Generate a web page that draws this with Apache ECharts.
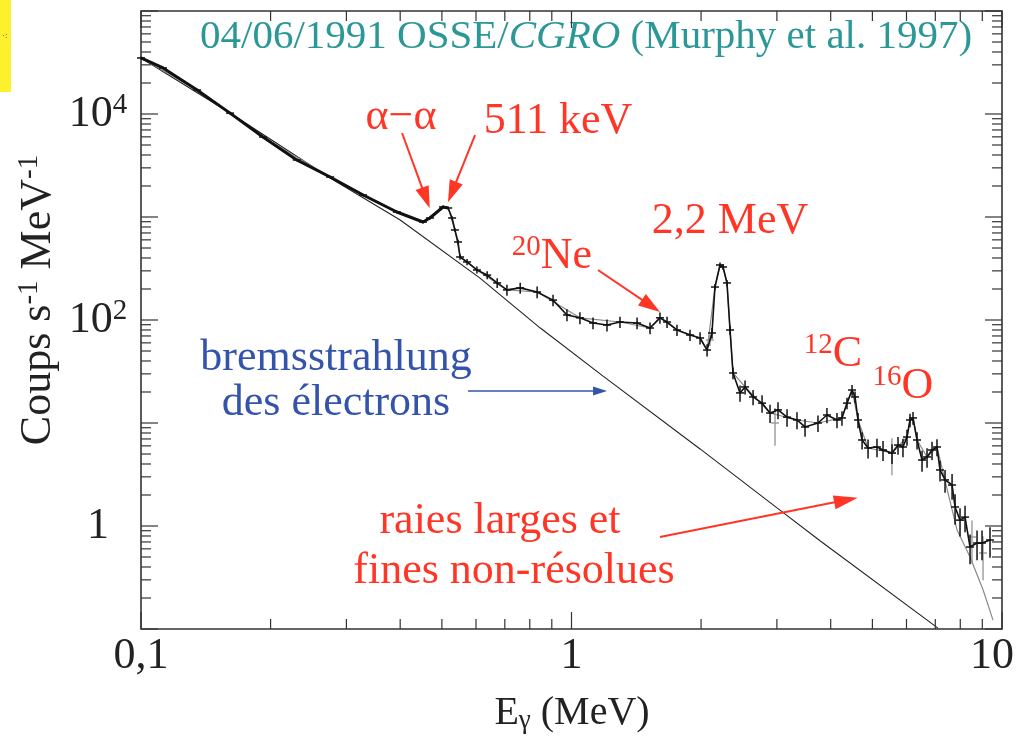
<!DOCTYPE html>
<html>
<head>
<meta charset="utf-8">
<title>OSSE/CGRO spectrum 04/06/1991</title>
<script src="https://cdn.jsdelivr.net/npm/echarts@6/dist/echarts.min.js"></script>
<style>
  html, body { margin: 0; padding: 0; background: #ffffff; }
  #chart { width: 1021px; height: 745px; }
</style>
</head>
<body>
<div id="chart"></div>
<script>
// Solar flare gamma-ray spectrum, 4 June 1991, OSSE on CGRO.
// Energies in MeV, rates in counts s^-1 MeV^-1.

// Measured spectrum (black crosses)
const energy = [0.100, 0.1125, 0.135, 0.161, 0.192, 0.230, 0.275, 0.328, 0.393, 0.452,
  0.469, 0.503, 0.517, 0.528, 0.536, 0.545, 0.551, 0.572, 0.603, 0.637,
  0.672, 0.708, 0.760, 0.832, 0.906, 0.976, 1.046, 1.122, 1.209, 1.296,
  1.420, 1.522, 1.605, 1.667, 1.758, 1.885, 1.989, 2.065, 2.120, 2.154,
  2.213, 2.249, 2.297, 2.335, 2.372, 2.463, 2.530, 2.641, 2.771, 2.892,
  3.018, 3.167, 3.340, 3.487, 3.737, 3.921, 4.137, 4.249, 4.365, 4.484,
  4.556, 4.630, 4.731, 4.885, 5.124, 5.292, 5.553, 5.734, 5.888, 6.016,
  6.114, 6.213, 6.348, 6.520, 6.697, 6.878, 7.063, 7.178, 7.374, 7.656,
  7.780, 7.989, 8.206, 8.429, 8.750, 8.987, 9.379];
const counts = [35000, 28000, 17100, 10200, 5980, 3580, 2445, 1635, 1118, 894,
  978, 1251, 1223, 978, 748, 572, 409, 366, 306, 273,
  229, 196, 205, 187, 156, 112, 105, 93.5, 89.4, 95.6,
  93.5, 83.6, 105, 95.6, 80, 71.5, 66.9, 51.1, 74.8, 209,
  342, 327, 229, 80, 30.6, 19.6, 22.4, 17.9, 15.6, 12.5,
  13.4, 11.4, 10.7, 9.15, 10.0, 11.96, 10.7, 11.2, 15.6, 20.9,
  17.9, 10.7, 6.84, 5.72, 5.85, 5.47, 5.11, 6.11, 5.85, 7.31,
  10.7, 11.2, 6.84, 4.37, 4.68, 5.47, 5.85, 3.50, 2.80, 2.50,
  1.53, 1.14, 1.22, 0.625, 0.684, 0.684, 0.731];
const countErr = [1000, 800, 500, 300, 170, 100, 70, 50, 34, 28,
  30, 40, 40, 35, 30, 28, 25, 25, 24, 24,
  25, 24, 25, 24, 20, 15, 14, 12, 12, 12,
  12, 11, 13, 12, 10, 9, 9, 7, 9, 15,
  20, 20, 16, 8, 4, 3.5, 3.5, 3, 3, 2.5,
  2.5, 2.2, 2, 1.8, 1.8, 2, 1.8, 1.8, 2, 2.5,
  2.3, 1.8, 1.3, 1.2, 1.2, 1.2, 1.1, 1.2, 1.2, 1.3,
  1.6, 1.6, 1.3, 1.0, 1.0, 1.1, 1.1, 0.8, 0.7, 0.7,
  0.5, 0.35, 0.35, 0.2, 0.22, 0.22, 0.24];
// Below the 511 keV line the bins are so dense they merge into a heavy trace
const denseBins = 13;

// Second detector set (grey crosses)
const energy2 = [2.097, 2.97, 5.55, 8.516, 9.035];
const counts2 = [63.9, 10.0, 5.11, 0.782, 0.547];
const countErr2 = [8, 4, 2, 0.35, 0.25];

// Fitted total model (grey line)
const fitEnergy = [0.100, 0.135, 0.192, 0.275, 0.393, 0.452, 0.503, 0.517, 0.536, 0.551,
  0.603, 0.708, 0.832, 1.046, 1.296, 1.522, 1.605, 1.758, 1.989, 2.065,
  2.154, 2.213, 2.249, 2.297, 2.335, 2.372, 2.530, 2.892, 3.340, 3.737,
  4.249, 4.365, 4.484, 4.630, 4.885, 5.553, 6.016, 6.114, 6.213, 6.348,
  6.697, 7.063, 7.34, 7.86, 8.43, 9.04, 9.53];
const fitCounts = [35000, 17100, 5980, 2445, 1118, 894, 1251, 1223, 748, 409,
  306, 196, 187, 105, 95.6, 83.6, 105, 80, 66.9, 51.1,
  209, 342, 327, 229, 80, 30.6, 22.4, 12.5, 10.7, 10.0,
  11.2, 15.6, 20.9, 10.7, 5.72, 5.11, 7.31, 10.7, 11.2, 6.84,
  4.68, 5.85, 2.99, 0.915, 0.50, 0.239, 0.122];

// Electron bremsstrahlung continuum
const bremsEnergy = [0.100, 0.161, 0.275, 0.400, 0.613, 0.845, 1.184, 1.989, 3.002, 3.778, 7.10];
const bremsCounts = [34970, 10220, 2391, 935, 255, 84, 28.5, 5.6, 1.5, 0.72, 0.102];

// Tick labels per decade exponent
const xTickLabels = { '-1': '0,1', '0': '1', '1': '{pad|10}' };
const yTickLabels = { '0': '{n|1}', '2': '{n|10}{s|2}', '4': '{n|10}{s|4}' };

// Annotation arrows [start, end] in (MeV, rate)
const arrowAlpha = [[0.404, 6540], [0.459, 1528]];
const arrow511 = [[0.597, 6250], [0.528, 1750]];
const arrowNe = [[1.152, 306], [1.530, 137]];
const arrowBrems = [[0.575, 20.4], [1.165, 20.4]];
const arrowLines = [[1.605, 0.782], [4.341, 1.788]];

const FONT = "'Liberation Serif', 'Times New Roman', serif";
const RED = '#ff3526';
const BLUE = '#3454ab';
const TEAL = '#2b9797';
const INK = '#222222';
const FRAME = '#333333';

const chart = echarts.init(document.getElementById('chart'), null, { renderer: 'canvas' });

const pairs = (xs, ys) => xs.map((x, i) => [x, ys[i]]);
const triples = (xs, ys, es) => xs.map((x, i) => [x, ys[i], es[i]]);

// decade ticks (major) and 2..9 sub-ticks on both log axes
function tickItems() {
  const items = [];
  for (let k = -1; k <= 1; k++) {
    const base = Math.pow(10, k);
    items.push([base, 1, 0]);
    if (k < 1) for (let m = 2; m <= 9; m++) items.push([m * base, 1, 1]);
  }
  for (let k = -1; k <= 5; k++) {
    const base = Math.pow(10, k);
    items.push([1, base, 2]);
    if (k < 5) for (let m = 2; m <= 9; m++) items.push([1, m * base, 3]);
  }
  return items;
}

function renderTick(params, api) {
  const kind = api.value(2);
  const len = (kind === 0 || kind === 2) ? 17 : 10;
  const cs = params.coordSys;
  const style = { stroke: FRAME, lineWidth: 1.2 };
  if (kind < 2) {
    const px = api.coord([api.value(0), 1])[0];
    const yb = cs.y + cs.height, yt = cs.y;
    return { type: 'group', children: [
      { type: 'line', shape: { x1: px, y1: yb, x2: px, y2: yb - len }, style },
      { type: 'line', shape: { x1: px, y1: yt, x2: px, y2: yt + len }, style }
    ] };
  }
  const py = api.coord([1, api.value(1)])[1];
  const xl = cs.x, xr = cs.x + cs.width;
  return { type: 'group', children: [
    { type: 'line', shape: { x1: xl, y1: py, x2: xl + len, y2: py }, style },
    { type: 'line', shape: { x1: xr, y1: py, x2: xr - len, y2: py }, style }
  ] };
}

function errorBarRenderer(color, width) {
  return function (params, api) {
    const e = api.value(0), f = api.value(1), s = api.value(2);
    const c = api.coord([e, f]);
    const lo = api.coord([e, Math.max(f - s, 1e-4)]);
    const hi = api.coord([e, f + s]);
    const hw = 4;
    const style = { stroke: color, lineWidth: width };
    return { type: 'group', children: [
      { type: 'line', shape: { x1: c[0], y1: lo[1], x2: c[0], y2: hi[1] }, style },
      { type: 'line', shape: { x1: c[0] - hw, y1: c[1], x2: c[0] + hw, y2: c[1] }, style }
    ] };
  };
}

const headPath = 'path://M5,0 L10,18 L0,18 Z';
function arrow(seg, color, width, head) {
  return [
    { coord: seg[0], symbol: 'none', lineStyle: { color, width, type: 'solid' } },
    { coord: seg[1], symbol: headPath, symbolSize: head, lineStyle: { color, width, type: 'solid' },
      itemStyle: { color } }
  ];
}

function label(x, y, text, rich, align) {
  return {
    type: 'text', x, y, silent: true,
    style: { text, rich, align: align || 'center', verticalAlign: 'middle', fontFamily: FONT }
  };
}
const redRich = {
  n: { fontFamily: FONT, fontSize: 44, lineHeight: 46, fill: RED },
  s: { fontFamily: FONT, fontSize: 29, lineHeight: 30, verticalAlign: 'top', fill: RED }
};
const blueRich = { n: { fontFamily: FONT, fontSize: 44, lineHeight: 46, fill: BLUE } };
const yTitleRich = {
  n: { fontFamily: FONT, fontSize: 44, lineHeight: 46, fill: INK },
  s: { fontFamily: FONT, fontSize: 29, lineHeight: 30, verticalAlign: 'top', fill: INK }
};
const xTitleRich = {
  n: { fontFamily: FONT, fontSize: 40, lineHeight: 42, fill: INK },
  b: { fontFamily: FONT, fontSize: 27, lineHeight: 16, verticalAlign: 'bottom', fill: INK }
};
const titleRich = {
  n: { fontFamily: FONT, fontSize: 41, lineHeight: 44, fill: TEAL },
  i: { fontFamily: FONT, fontSize: 41, lineHeight: 44, fontStyle: 'italic', fill: TEAL }
};

const option = {
  backgroundColor: '#ffffff',
  animation: false,
  grid: {
    left: 141, right: 19, top: 11, bottom: 116,
    show: true, borderColor: FRAME, borderWidth: 1.6, backgroundColor: 'transparent',
    containLabel: false, outerBoundsMode: 'none'
  },
  xAxis: {
    type: 'log', logBase: 10, min: 0.1, max: 10,
    axisLine: { show: false }, axisTick: { show: false }, splitLine: { show: false },
    minorTick: { show: false },
    axisLabel: {
      margin: 5, fontFamily: FONT, fontSize: 44, color: INK,
      formatter: v => xTickLabels[String(Math.round(Math.log10(v)))] || '',
      rich: { pad: { fontFamily: FONT, fontSize: 44, color: INK, padding: [0, 20, 0, 0] } }
    }
  },
  yAxis: {
    type: 'log', logBase: 10, min: 0.1, max: 100000,
    axisLine: { show: false }, axisTick: { show: false }, splitLine: { show: false },
    minorTick: { show: false },
    axisLabel: {
      margin: 43, align: 'center', fontFamily: FONT, fontSize: 44, color: INK,
      formatter: v => yTickLabels[String(Math.round(Math.log10(v)))] || '',
      rich: {
        n: { fontFamily: FONT, fontSize: 44, lineHeight: 46, color: INK },
        s: { fontFamily: FONT, fontSize: 29, lineHeight: 30, verticalAlign: 'top', color: INK }
      }
    }
  },
  series: [
    {
      name: 'ticks', type: 'custom', data: tickItems(), encode: { x: 0, y: 1 },
      renderItem: renderTick, clip: false, silent: true, z: 5
    },
    {
      name: 'bremsstrahlung', type: 'line', data: pairs(bremsEnergy, bremsCounts),
      showSymbol: false, lineStyle: { color: INK, width: 1.1 }, silent: true, z: 2,
      markLine: {
        silent: true, animation: false, label: { show: false }, emphasis: { disabled: true },
        data: [
          arrow(arrowAlpha, RED, 2, [14, 22]),
          arrow(arrow511, RED, 2, [14, 22]),
          arrow(arrowNe, RED, 2, [14, 22]),
          arrow(arrowBrems, BLUE, 1.5, [9, 14]),
          arrow(arrowLines, RED, 2, [14, 24])
        ]
      }
    },
    {
      name: 'model', type: 'line', data: pairs(fitEnergy, fitCounts),
      showSymbol: false, lineStyle: { color: '#8a8a8a', width: 1.2 }, silent: true, z: 3
    },
    {
      name: 'errors2', type: 'custom', data: triples(energy2, counts2, countErr2),
      encode: { x: 0, y: 1 }, renderItem: errorBarRenderer('#9a9a9a', 1.4), silent: true, z: 3
    },
    {
      name: 'spectrum', type: 'line', data: pairs(energy, counts),
      showSymbol: false, lineStyle: { color: '#111111', width: 1.6 }, silent: true, z: 4
    },
    {
      name: 'spectrum-dense', type: 'line',
      data: pairs(energy.slice(0, denseBins), counts.slice(0, denseBins)),
      showSymbol: false, lineStyle: { color: '#111111', width: 3 }, silent: true, z: 4
    },
    {
      name: 'errors', type: 'custom', data: triples(energy, counts, countErr),
      encode: { x: 0, y: 1 }, renderItem: errorBarRenderer('#111111', 1.5), silent: true, z: 4
    }
  ],
  graphic: [
    { type: 'rect', shape: { x: 0, y: 0, width: 11, height: 92 }, style: { fill: '#fdf02c' }, silent: true },
    { type: 'text', x: 2, y: 31, style: { text: '·:', fontSize: 9, fill: '#444', fontFamily: FONT }, silent: true },
    label(200, 37, '{n|04/06/1991 OSSE/}{i|CGRO}{n| (Murphy et al. 1997)}', titleRich, 'left'),
    label(401, 117, '{n|α−α}', redRich),
    label(558, 121, '{n|511 keV}', redRich),
    label(730, 221, '{n|2,2 MeV}', redRich),
    label(552, 256, '{s|20}{n|Ne}', redRich),
    label(833, 354, '{s|12}{n|C}', redRich),
    label(903, 386, '{s|16}{n|O}', redRich),
    label(336, 358, '{n|bremsstrahlung}', blueRich),
    label(336, 403, '{n|des électrons}', blueRich),
    label(500, 521, '{n|raies larges et}', redRich),
    label(514, 571, '{n|fines non-résolues}', redRich),
    label(572, 713, '{n|E}{b|γ}{n| (MeV)}', xTitleRich),
    Object.assign(label(38, 300, '{n|Coups s}{s|-1}{n| MeV}{s|-1}', yTitleRich), { rotation: Math.PI / 2 })
  ]
};

chart.setOption(option);
</script>
</body>
</html>
